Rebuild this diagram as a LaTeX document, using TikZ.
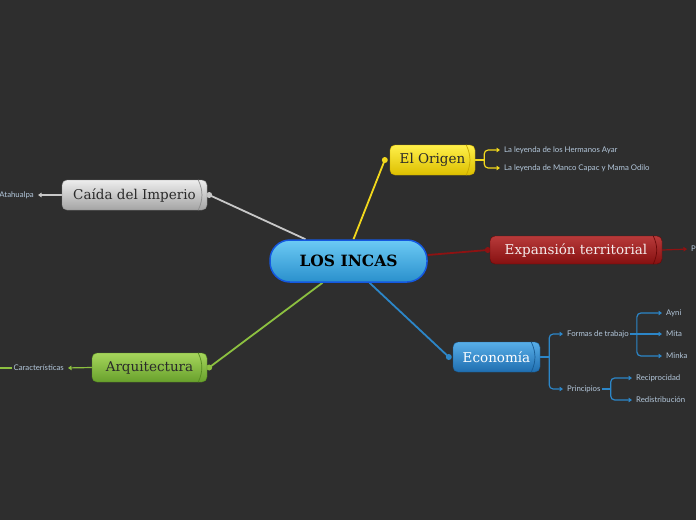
\documentclass[tikz,border=0pt]{standalone}
\usepackage{fontspec}
\setmainfont{DejaVu Serif}
\newfontfamily\labelfont{Lato}
\usetikzlibrary{arrows.meta,backgrounds}
\definecolor{bg}{HTML}{2E2E2E}
\definecolor{lblc}{HTML}{B4C8DC}
\definecolor{yelL}{HTML}{F2D81C}
\definecolor{grayL}{HTML}{C8C8C8}
\definecolor{redL}{HTML}{8E1212}
\definecolor{bluL}{HTML}{2C86C8}
\definecolor{grnL}{HTML}{8CC040}
\definecolor{cenB}{HTML}{1458E0}
\definecolor{cenT}{HTML}{6CCAF5}
\definecolor{cenBo}{HTML}{2A90CC}
\definecolor{yelT}{HTML}{FFF04A}
\definecolor{yelB}{HTML}{DDBF00}
\definecolor{yelD}{HTML}{C8A800}
\definecolor{gryT}{HTML}{EDEDED}
\definecolor{gryB}{HTML}{A4A4A4}
\definecolor{gryD}{HTML}{8C8C8C}
\definecolor{redT}{HTML}{B83A3A}
\definecolor{redB}{HTML}{861010}
\definecolor{redD}{HTML}{6A0808}
\definecolor{bluT}{HTML}{58AEE8}
\definecolor{bluB}{HTML}{1F6EB0}
\definecolor{bluD}{HTML}{175A92}
\definecolor{grnT}{HTML}{A6D65C}
\definecolor{grnB}{HTML}{68A02C}
\definecolor{grnD}{HTML}{558A20}
\definecolor{darktxt}{HTML}{2A2A2A}
\definecolor{lighttxt}{HTML}{F4ECEC}
\tikzset{
  central/.style={draw=cenB, line width=1.5pt, rounded corners=20pt,
    top color=cenT, bottom color=cenBo, minimum width=157pt, minimum height=42pt,
    font=\fontsize{15.5}{17}\selectfont\bfseries, text=black},
  branch/.style={rounded corners=5pt, minimum height=30pt, inner sep=0pt,
    font=\fontsize{13.5}{15}\selectfont},
  lbl/.style={font=\labelfont\fontsize{7.8}{9}\selectfont, text=lblc, inner sep=1pt},
  conn/.style={line width=1.8pt},
  sub/.style={line width=1.2pt, rounded corners=4pt, -{Triangle[length=3.5pt,width=4.5pt]}, shorten >=3pt},
  subl/.style={line width=1.2pt, -{Triangle[length=3.5pt,width=4.5pt]}, shorten >=3pt},
  capline/.style={line width=0.7pt},
}
\begin{document}
\begin{tikzpicture}[x=1pt,y=-1pt]
\begin{scope}[on background layer]
\fill[bg] (0,0) rectangle (696,520);
\end{scope}
\useasboundingbox (0,0) rectangle (696,520);

% central
\node[central] (root) at (348.5,261) {LOS INCAS};

% branches
\node[branch, draw=yelD, top color=yelT, bottom color=yelB, minimum width=85pt, text=darktxt] (origen) at (432.5,160) {El Origen\hspace{6pt}};
\node[branch, draw=gryD, top color=gryT, bottom color=gryB, minimum width=145pt, text=darktxt] (caida) at (134.5,195) {Caída del Imperio\hspace{6pt}};
\node[branch, draw=redD, top color=redT, bottom color=redB, minimum width=172pt, minimum height=28pt, text=lighttxt] (expan) at (576,250) {Expansión territorial\hspace{6pt}};
\node[branch, draw=bluD, top color=bluT, bottom color=bluB, minimum width=87pt, text=white] (econ) at (496.5,357) {Economía\hspace{6pt}};
\node[branch, draw=grnD, top color=grnT, bottom color=grnB, minimum width=115pt, minimum height=29pt, text=darktxt] (arq) at (149.5,367.5) {Arquitectura\hspace{6pt}};

% cylinder caps
\draw[capline, yelD] ([xshift=-9pt]origen.north east) to[bend left=25] ([xshift=-9pt]origen.south east);
\draw[capline, gryD] ([xshift=-9pt]caida.north east) to[bend left=25] ([xshift=-9pt]caida.south east);
\draw[capline, redD] ([xshift=-9pt]expan.north east) to[bend left=25] ([xshift=-9pt]expan.south east);
\draw[capline, bluD] ([xshift=-9pt]econ.north east) to[bend left=25] ([xshift=-9pt]econ.south east);
\draw[capline, grnD] ([xshift=-9pt]arq.north east) to[bend left=25] ([xshift=-9pt]arq.south east);

% leaf labels
\node[lbl, anchor=west] (o1) at (503,150) {La leyenda de los Hermanos Ayar};
\node[lbl, anchor=west] (o2) at (503,168) {La leyenda de Manco Capac y Mama Odilo};
\node[lbl, anchor=east] (c1) at (35,195) {Atahualpa};
\node[lbl, anchor=west] (e1) at (690,249) {P};
\node[lbl, anchor=west] (f) at (566,334) {Formas de trabajo};
\node[lbl, anchor=west] (p) at (566,389) {Principios};
\node[lbl, anchor=west] (f1) at (665,313) {Ayni};
\node[lbl, anchor=west] (f2) at (665,334) {Mita};
\node[lbl, anchor=west] (f3) at (665,356) {Minka};
\node[lbl, anchor=west] (p1) at (635,378) {Reciprocidad};
\node[lbl, anchor=west] (p2) at (635,400) {Redistribución};
\node[lbl, anchor=east] (a1) at (65,368) {Características};
\coordinate (aL) at (0,368);

\begin{scope}[on background layer]
% main connectors
\draw[conn, yelL] ([xshift=5pt]root.north) -- ([xshift=-5pt]origen.west);
\fill[yelL] ([xshift=-5pt]origen.west) circle (3pt);
\draw[conn, grayL] ([xshift=-43pt]root.north) -- ([xshift=2pt]caida.east);
\fill[grayL] ([xshift=2pt]caida.east) circle (3pt);
\draw[conn, redL] ([yshift=6pt]root.east) -- ([xshift=-2pt]expan.west);
\fill[redL] ([xshift=-2pt]expan.west) circle (3pt);
\draw[conn, bluL] ([xshift=21pt]root.south) -- ([xshift=-4pt]econ.west);
\fill[bluL] ([xshift=-4pt]econ.west) circle (3pt);
\draw[conn, grnL] ([xshift=-26pt]root.south) -- ([xshift=2pt]arq.east);
\fill[grnL] ([xshift=2pt]arq.east) circle (3pt);

% El Origen subtree
\draw[line width=1.2pt, yelL] (origen.east) -- ++(9,0) coordinate (oj);
\draw[sub, yelL] (oj) |- (o1.west);
\draw[sub, yelL] (oj) |- (o2.west);

% Caida subtree
\draw[subl, grayL] (caida.west) -- (c1.east);

% Expansion subtree
\draw[subl, redL] (expan.east) -- (e1.west);

% Economia subtree
\draw[line width=1.2pt, bluL] (econ.east) -- ++(9,0) coordinate (ej);
\draw[sub, bluL] (ej) |- (f.west);
\draw[sub, bluL] (ej) |- (p.west);
\draw[line width=1.2pt, bluL] (f.east) -- ++(7,0) coordinate (fj);
\draw[sub, bluL] (fj) |- (f1.west);
\draw[subl, bluL] (fj) -- (f2.west);
\draw[sub, bluL] (fj) |- (f3.west);
\draw[line width=1.2pt, bluL] (p.east) -- ++(9,0) coordinate (pj);
\draw[sub, bluL] (pj) |- (p1.west);
\draw[sub, bluL] (pj) |- (p2.west);

% Arquitectura subtree
\draw[subl, grnL] (arq.west) -- (a1.east);
\draw[line width=1.2pt, grnL] (a1.west) -- (aL);
\end{scope}
\end{tikzpicture}
\end{document}
